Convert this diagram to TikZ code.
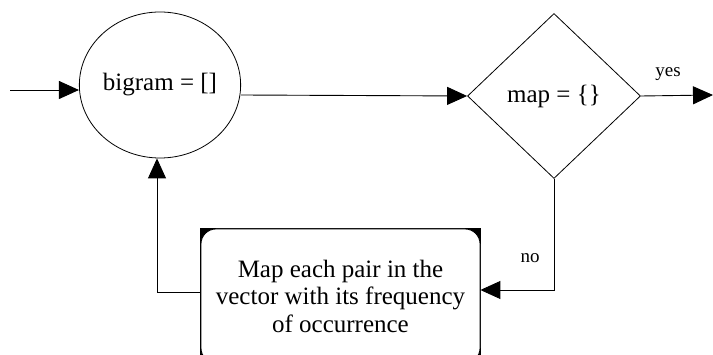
\documentclass[tikz,border=0pt]{standalone}
\usepackage{fontspec}
\setmainfont{Liberation Serif}
\usetikzlibrary{shapes.geometric,arrows.meta,backgrounds}
\begin{document}
\begin{tikzpicture}[x=1pt,y=-1pt,
  line/.style={line width=0.9pt},
  arr/.style={line, -{Triangle[length=20pt,width=18pt]}},
  stateell/.style={ellipse, draw, line width=0.8pt, minimum width=156pt, minimum height=146pt, inner sep=0pt, font=\fontsize{25}{28}\selectfont},
  decide/.style={diamond, draw, line width=0.8pt, minimum width=173pt, minimum height=165pt, inner sep=0pt, font=\fontsize{25}{28}\selectfont},
  procbox/.style={rectangle, draw, fill=white, rounded corners=15pt, line width=0.8pt, minimum width=279pt, minimum height=134pt, align=center, font=\fontsize{25}{27.5}\selectfont},
  lbl/.style={font=\fontsize{19}{22}\selectfont, inner sep=0pt}]
\useasboundingbox (0,0) rectangle (713,355);
\clip (0,0) rectangle (713,355);
\node[stateell] (bigram) at (160,85) {bigram = []};
\node[decide] (map) at (554,96) {map = \{\}};
\node[procbox] (proc) at (340.5,296) {Map each pair in the\\vector with its frequency\\of occurrence};
\begin{scope}[on background layer]
  \fill[white] (0,0) rectangle (713,355);
  \filldraw[black, line width=0.8pt] (proc.north west) rectangle (proc.south east);
\end{scope}
\coordinate (start) at (10,90);
\coordinate (yesend) at (713,95);
\coordinate (nocorner) at (554,290);
\coordinate (backcorner) at (157,292);
\draw[arr] (start) -- (start -| bigram.west);
\draw[arr] (bigram.east |- 0,95) -- (map.west);
\draw[arr] (map.east) -- (yesend);
\node[lbl] (yes) at (668,74) {yes};
\draw[arr] (map.south) -- (nocorner) -- (nocorner -| proc.east);
\node[lbl] (no) at (530,258) {no};
\draw[arr] (proc.west |- backcorner) -- (backcorner) -- (backcorner |- bigram.south);
\end{tikzpicture}
\end{document}
